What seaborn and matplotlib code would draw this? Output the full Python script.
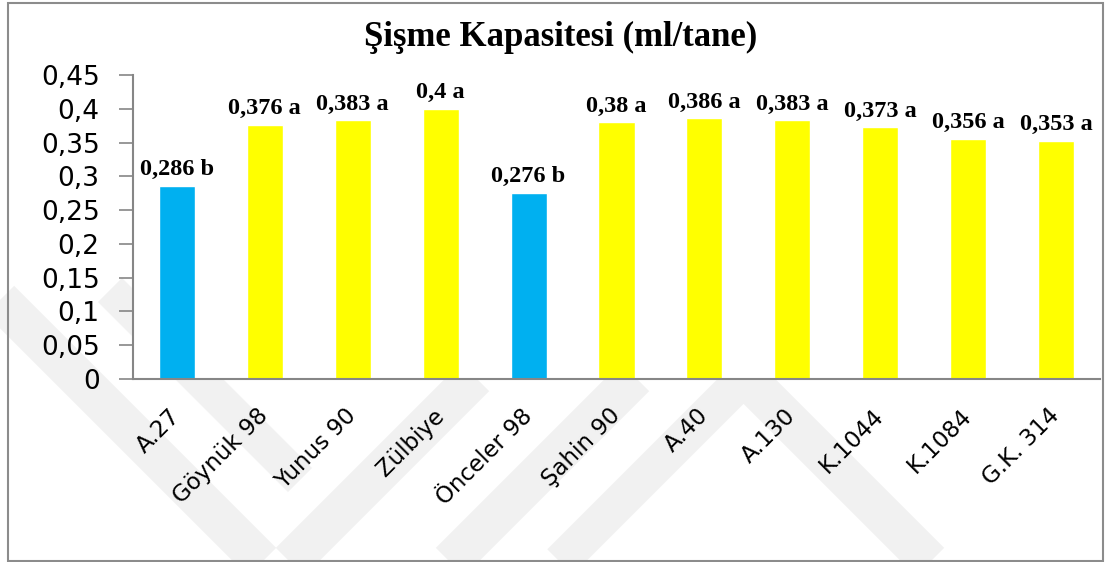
import matplotlib
matplotlib.use("Agg")
import matplotlib.pyplot as plt
import seaborn as sns
import pandas as pd
from matplotlib.lines import Line2D
from matplotlib.patches import Rectangle
from matplotlib.ticker import FixedLocator

categories = ["A.27", "Göynük 98", "Yunus 90", "Zülbiye", "Önceler 98", "Şahin 90",
              "A.40", "A.130", "K.1044", "K.1084", "G.K. 314"]
values = [0.286, 0.376, 0.383, 0.4, 0.276, 0.38, 0.386, 0.383, 0.373, 0.356, 0.353]
letters = ["b", "a", "a", "a", "b", "a", "a", "a", "a", "a", "a"]
value_labels = ["0,286", "0,376", "0,383", "0,4", "0,276", "0,38", "0,386", "0,383", "0,373", "0,356", "0,353"]
ytick_values = [0, 0.05, 0.1, 0.15, 0.2, 0.25, 0.3, 0.35, 0.4, 0.45]
ytick_labels = ["0", "0,05", "0,1", "0,15", "0,2", "0,25", "0,3", "0,35", "0,4", "0,45"]
title = "Şişme Kapasitesi (ml/tane)"

BLUE = "#00B0F0"
YELLOW = "#FFFF00"
colors = [BLUE if l == "b" else YELLOW for l in letters]

sns.set_style("white")
plt.rcParams["font.family"] = ["DejaVu Sans"]

W, H = 1105, 562
fig = plt.figure(figsize=(W / 100, H / 100), dpi=100)
fig.patch.set_facecolor("white")

# watermark bands (pixel coords, y down)
def band(p0, p1, width):
    xs = [p0[0] / W, p1[0] / W]
    ys = [1 - p0[1] / H, 1 - p1[1] / H]
    fig.add_artist(Line2D(xs, ys, transform=fig.transFigure, color="#F1F1F1",
                          lw=width * 0.72, solid_capstyle="butt", zorder=0))

band((0, 300), (262, 562), 40)
band((110, 290), (300, 480), 34)
band((290, 562), (475, 377), 40)
band((450, 562), (635, 377), 40)
band((560, 562), (745, 377), 36)
band((745, 377), (930, 562), 40)

fig.add_artist(Rectangle((8 / W, 1 - 561 / H), (1103 - 8) / W, (561 - 3) / H,
                         transform=fig.transFigure, fill=False, edgecolor="#8C8C8C",
                         lw=1.5, zorder=1))

ax = fig.add_axes([133 / W, 1 - 379 / H, (1100 - 133) / W, (379 - 75) / H])
ax.set_facecolor("white")
ax.set_zorder(2)

df = pd.DataFrame({"cat": categories, "val": values})
sns.barplot(data=df, x="cat", y="val", hue="cat", palette=colors, legend=False,
            width=0.41, saturation=1, ax=ax, order=categories, hue_order=categories)

ax.set_ylim(0, 0.45)
ax.set_xlim(-0.5, len(categories) - 0.5)
ax.set_yticks(ytick_values)
ax.set_yticklabels(ytick_labels, fontsize=19, color="black")
ax.set_xticks(range(len(categories)))
ax.set_xticklabels(categories, rotation=45, ha="right", va="center",
                   rotation_mode="anchor", fontsize=16.5, color="black")
ax.xaxis.set_minor_locator(FixedLocator([i - 0.5 for i in range(len(categories) + 1)]))
ax.tick_params(axis="x", which="major", length=0, pad=24)
ax.tick_params(axis="x", which="minor", length=10, width=1.2, color="#868686", direction="out")
ax.tick_params(axis="y", which="major", length=10, width=1.2, color="#868686",
               direction="out", left=True, pad=14)
ax.set_xlabel("")
ax.set_ylabel("")

for s in ["top", "right"]:
    ax.spines[s].set_visible(False)
for s in ["left", "bottom"]:
    ax.spines[s].set_color("#868686")
    ax.spines[s].set_linewidth(1.5)

for i, (v, vl, l) in enumerate(zip(values, value_labels, letters)):
    ax.annotate(f"{vl} {l}", (i, v), xytext=(0, 4), textcoords="offset points",
                ha="center", va="bottom", fontsize=17.5, fontweight="bold",
                family="Liberation Serif", color="black")

fig.text(561 / W, 1 - 37 / H, title, ha="center", va="center", fontsize=25,
         fontweight="bold", family="Liberation Serif", color="black")

fig.savefig("out.png", dpi=100, facecolor="white")
